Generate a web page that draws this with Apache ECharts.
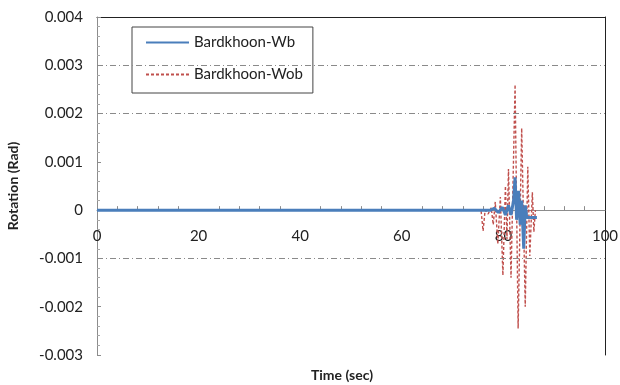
<!DOCTYPE html>
<html>
<head>
<meta charset="utf-8">
<script src="https://cdn.jsdelivr.net/npm/echarts@6/dist/echarts.min.js"></script>
<style>html,body{margin:0;padding:0;background:#fff}#c{width:620px;height:385px}</style>
</head>
<body>
<div id="c"></div>
<script>
// Series names
var seriesNames = ['Bardkhoon-Wb', 'Bardkhoon-Wob'];
// Bardkhoon-Wb (solid blue): time (sec) and rotation (rad)
var wbTime = [0, 77.5, 78.2, 79.0, 79.8, 80.4, 81.0, 81.5, 82.0, 82.3, 82.6, 83.0, 83.3, 83.6, 84.0, 84.3, 84.6, 86.6];
var wbRot  = [0, 0, 0.00004, -0.00005, 0.00006, -0.0001, 0.0001, -0.0001, 0.0002, 0.00068, -0.0002, 0.0004, -0.0003, 0.0002, -0.0008, 0.0001, -0.00015, -0.00015];
// Bardkhoon-Wob (dashed red): time (sec) and rotation (rad)
var wobTime = [0, 75.6, 76.0, 76.4, 77.0, 77.6, 78.0, 78.4, 78.9, 79.4, 79.9, 80.4, 80.7, 81.0, 81.5, 81.9, 82.3, 82.9, 83.6, 84.3, 84.8, 85.2, 85.7, 86.0, 86.3];
var wobRot  = [0, 0, -0.00043, 0.0, -0.00008, 0.00005, -0.0003, 0.00017, -0.0007, 0.00027, -0.00135, 0.0005, -0.0006, 0.00085, -0.0014, 0.0006, 0.0026, -0.00245, 0.0017, -0.002, 0.0009, -0.00095, 0.00037, -0.00045, 0];
// Axis settings
var xTicks = {min: 0, max: 100, interval: 20};
var yTicks = {min: -0.003, max: 0.004, interval: 0.001};
var gridValues = [0.003, 0.002, -0.001];

function pairs(t, v) { return t.map(function (x, i) { return [x, v[i]]; }); }

var FONT = 'Lato';
var GRID = {left: 97, right: 15, top: 17, bottom: 30};
var plotH = 385 - GRID.top - GRID.bottom;
// distance from grid bottom to the y = 0 line (computed from the y scale)
var zeroOffset = plotH * (0 - yTicks.min) / (yTicks.max - yTicks.min);

var chart = echarts.init(document.getElementById('c'), null, {renderer: 'canvas'});
chart.setOption({
  animation: false,
  backgroundColor: '#fff',
  textStyle: {fontFamily: FONT},
  grid: {left: GRID.left, right: GRID.right, top: GRID.top, bottom: GRID.bottom, containLabel: false, outerBoundsMode: 'none'},
  legend: {
    show: true,
    left: 132, top: 27,
    orient: 'vertical',
    data: seriesNames,
    itemWidth: 43, itemHeight: 14, itemGap: 17,
    padding: [8, 10, 11, 13],
    borderColor: '#444', borderWidth: 1,
    itemStyle: {opacity: 0},
    textStyle: {fontFamily: FONT, fontSize: 15, color: '#222'}
  },
  xAxis: [{
    type: 'value', min: xTicks.min, max: xTicks.max, interval: xTicks.interval,
    offset: -zeroOffset,
    axisLine: {onZero: false, lineStyle: {color: '#8c8c8c', width: 1}},
    axisTick: {show: false, inside: true},
    minorTick: {show: true, splitNumber: 5, length: 4, lineStyle: {color: '#8c8c8c'}},
    axisLabel: {margin: 19, fontSize: 15, color: '#222', fontFamily: FONT},
    splitLine: {show: false},
    name: 'Time (sec)', nameLocation: 'middle', nameGap: 158,
    nameTextStyle: {fontWeight: 'bold', fontSize: 14, color: '#222', fontFamily: FONT, padding: [0, 18, 0, 0]}
  }, {
    type: 'value', position: 'top', min: xTicks.min, max: xTicks.max,
    axisLine: {show: true, onZero: false, lineStyle: {color: '#222'}},
    axisTick: {show: false}, axisLabel: {show: false}, splitLine: {show: false}
  }],
  yAxis: [{
    type: 'value', min: yTicks.min, max: yTicks.max, interval: yTicks.interval,
    axisLine: {show: true, onZero: false, lineStyle: {color: '#8c8c8c'}},
    axisTick: {show: true, inside: true, length: 4, lineStyle: {color: '#8c8c8c'}},
    minorTick: {show: true, splitNumber: 5, length: 3, lineStyle: {color: '#a8a8a8'}},
    axisLabel: {margin: 14, fontSize: 15, color: '#222', fontFamily: FONT,
      formatter: function (v) { return Math.abs(v) < 1e-12 ? '0' : (+v.toFixed(3)).toFixed(3); }},
    splitLine: {show: false},
    name: 'Rotation (Rad)', nameLocation: 'middle', nameGap: 77, nameRotate: 90,
    nameTextStyle: {fontWeight: 'bold', fontSize: 14, color: '#222', fontFamily: FONT}
  }, {
    type: 'value', position: 'right', min: yTicks.min, max: yTicks.max,
    axisLine: {show: true, onZero: false, lineStyle: {color: '#222'}},
    axisTick: {show: false}, axisLabel: {show: false}, splitLine: {show: false}
  }],
  series: [{
    name: seriesNames[0], type: 'line', showSymbol: false, symbol: 'none',
    data: pairs(wbTime, wbRot), z: 3,
    lineStyle: {color: '#4a7ebb', width: 3},
    itemStyle: {color: '#4a7ebb'}
  }, {
    name: seriesNames[1], type: 'line', showSymbol: false, symbol: 'none',
    data: pairs(wobTime, wobRot), z: 2,
    lineStyle: {color: '#c0504d', width: 1.4, type: [3, 2]},
    itemStyle: {color: '#c0504d'},
    markLine: {
      silent: true, symbol: ['none', 'none'], animation: false,
      label: {show: false},
      lineStyle: {color: '#8a8a8a', width: 1, type: [6, 3, 1, 3], opacity: 1},
      data: gridValues.map(function (g) { return [{coord: [xTicks.min, g]}, {coord: [xTicks.max, g]}]; })
    }
  }]
});
</script>
</body>
</html>
